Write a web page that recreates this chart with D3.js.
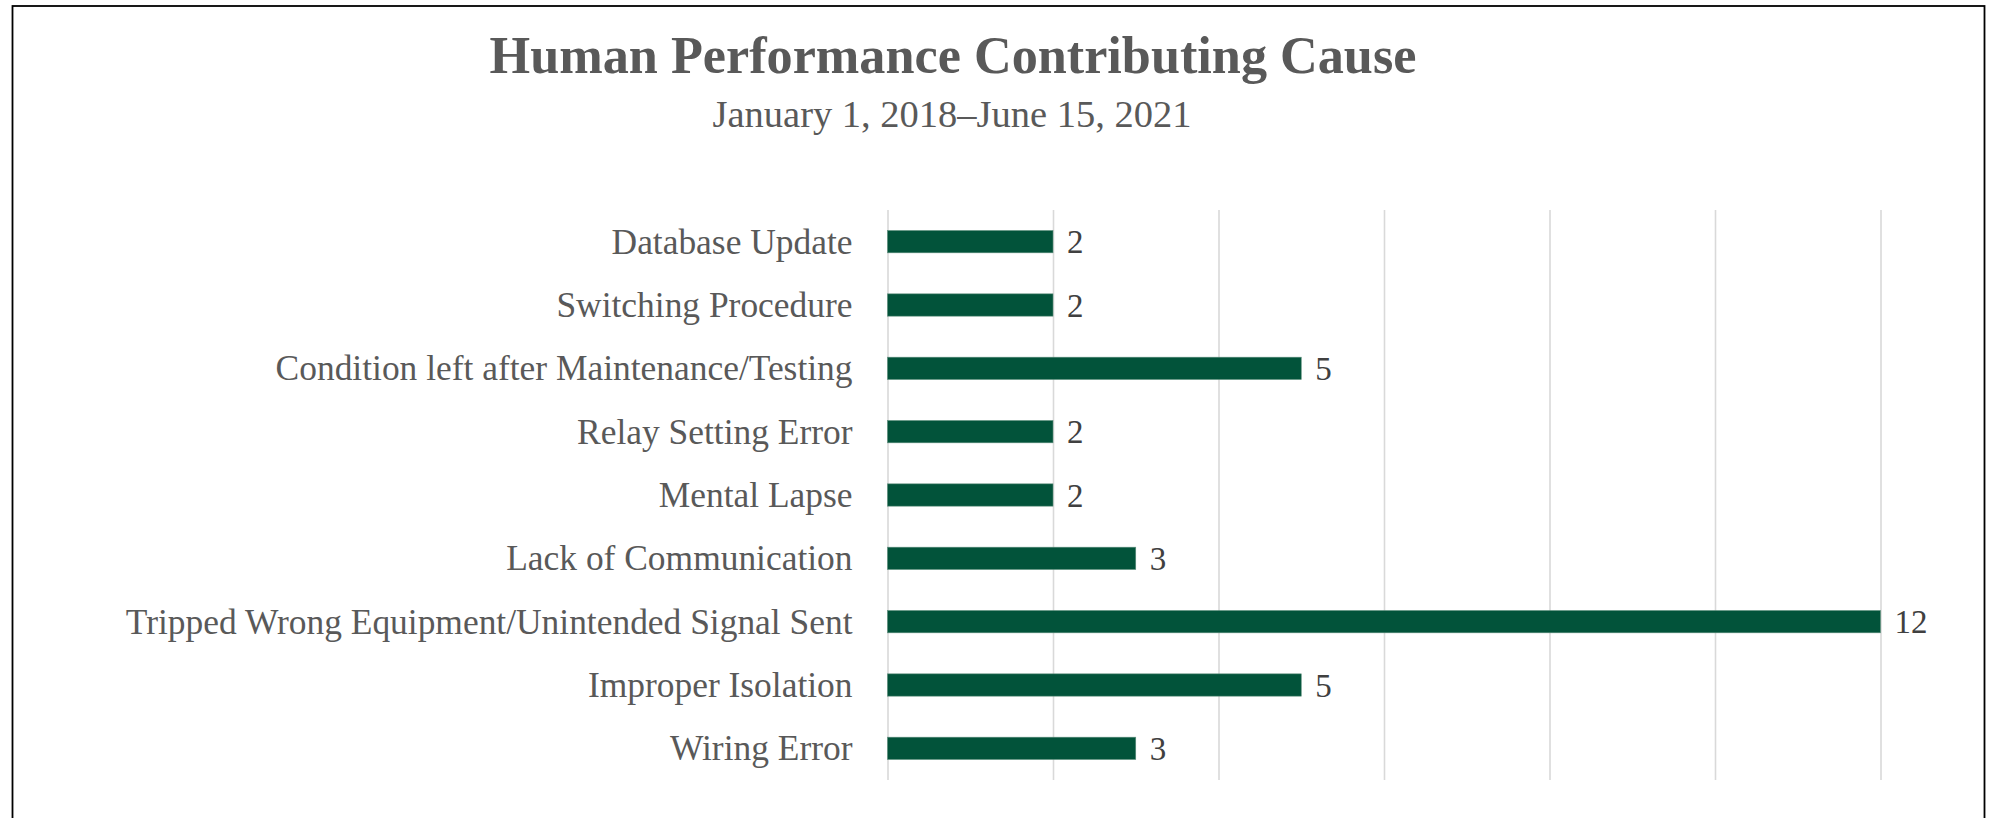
<!DOCTYPE html>
<html>
<head>
<meta charset="utf-8">
<script src="https://cdn.jsdelivr.net/npm/d3@7"></script>
<style>
  html, body { margin: 0; padding: 0; background: #fff; }
  svg { display: block; }
</style>
</head>
<body>
<svg id="chart" width="1997" height="818"></svg>
<script>
const titleText = "Human Performance Contributing Cause";
const subtitleText = "January 1, 2018\u2013June 15, 2021";
const categories = [
  "Database Update",
  "Switching Procedure",
  "Condition left after Maintenance/Testing",
  "Relay Setting Error",
  "Mental Lapse",
  "Lack of Communication",
  "Tripped Wrong Equipment/Unintended Signal Sent",
  "Improper Isolation",
  "Wiring Error"
];
const values = [2, 2, 5, 2, 2, 3, 12, 5, 3];
const tickValues = [0, 2, 4, 6, 8, 10, 12];

const svg = d3.select("#chart");
const FONT = "'Liberation Serif', 'Times New Roman', serif";

// frame
svg.append("rect")
  .attr("x", 12.5).attr("y", 6)
  .attr("width", 1972).attr("height", 840)
  .attr("fill", "#fff").attr("stroke", "#000").attr("stroke-width", 1.8);

const plot = { left: 887.5, right: 1880.5, top: 210, bottom: 780 };

const x = d3.scaleLinear().domain([0, 12]).range([plot.left, plot.right]);
const y = d3.scaleBand().domain(categories).range([plot.top, plot.bottom])
  .paddingInner(0.648).paddingOuter(0.324);

// helper to fit text to a target width
function fit(sel, targetWidth) {
  const w = sel.node().getComputedTextLength();
  const fs = parseFloat(sel.attr("font-size"));
  sel.attr("font-size", (fs * targetWidth / w).toFixed(2));
}

// title
const title = svg.append("text")
  .attr("x", 953).attr("y", 73)
  .attr("text-anchor", "middle")
  .attr("font-family", FONT).attr("font-weight", "bold")
  .attr("font-size", 46).attr("fill", "#595959")
  .text(titleText);
fit(title, 927);

const sub = svg.append("text")
  .attr("x", 952).attr("y", 126.5)
  .attr("text-anchor", "middle")
  .attr("font-family", FONT)
  .attr("font-size", 32).attr("fill", "#595959")
  .text(subtitleText);
fit(sub, 479);

// gridlines via axis
const gridAxis = d3.axisBottom(x).tickValues(tickValues)
  .tickSize(-(plot.bottom - plot.top)).tickFormat("");
const grid = svg.append("g")
  .attr("transform", `translate(0,${plot.bottom})`)
  .call(gridAxis);
grid.select(".domain").remove();
grid.selectAll(".tick line").attr("stroke", "#d9d9d9").attr("stroke-width", 1.6);

// category axis labels
const yAxis = d3.axisLeft(y).tickSize(0).tickPadding(35);
const ya = svg.append("g")
  .attr("transform", `translate(${plot.left},0)`)
  .call(yAxis);
ya.select(".domain").remove();
ya.selectAll(".tick text")
  .attr("font-family", FONT).attr("font-size", 30)
  .attr("fill", "#595959").attr("dy", "0.34em");
// fit labels by the longest
const longest = ya.selectAll(".tick text").nodes()
  .reduce((a, n) => n.getComputedTextLength() > a.getComputedTextLength() ? n : a);
const scale = 727 / longest.getComputedTextLength();
ya.selectAll(".tick text").attr("font-size", (30 * scale).toFixed(2));

// bars
svg.append("g").selectAll("rect")
  .data(categories)
  .join("rect")
  .attr("x", x(0))
  .attr("y", d => y(d))
  .attr("width", (d, i) => x(values[i]) - x(0))
  .attr("height", y.bandwidth())
  .attr("fill", "#02533a")
  .attr("stroke", "#5e8f7c").attr("stroke-width", 0.6);

// value labels
svg.append("g").selectAll("text")
  .data(categories)
  .join("text")
  .attr("x", (d, i) => x(values[i]) + 14)
  .attr("y", d => y(d) + y.bandwidth() / 2)
  .attr("dy", "0.35em")
  .attr("font-family", FONT).attr("font-size", 33)
  .attr("fill", "#404040")
  .text((d, i) => values[i]);
</script>
</body>
</html>
